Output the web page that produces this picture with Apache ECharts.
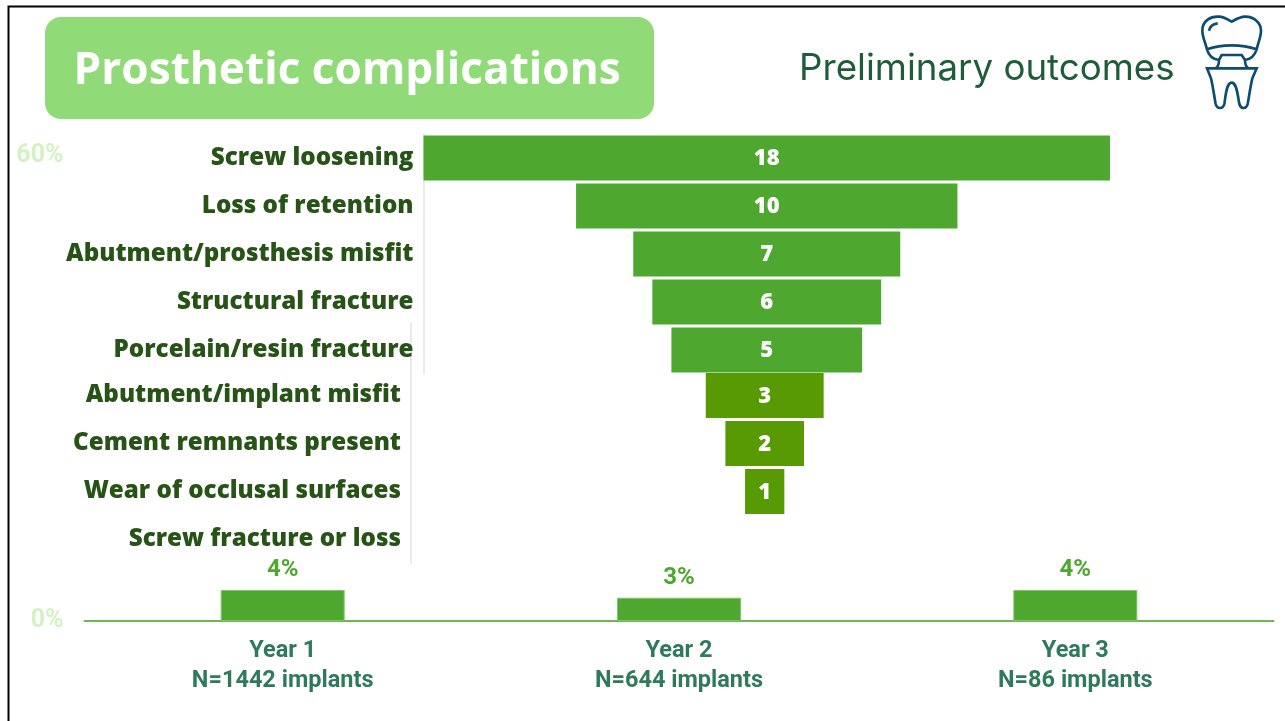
<!DOCTYPE html>
<html>
<head>
<meta charset="utf-8">
<style>
  html, body { margin: 0; padding: 0; background: #fff; }
  #main { width: 1285px; height: 721px; }
</style>
<script src="https://cdn.jsdelivr.net/npm/echarts@6/dist/echarts.min.js"></script>
</head>
<body>
<div id="main"></div>
<script>
const upperCategories = ["Screw loosening", "Loss of retention", "Abutment/prosthesis misfit", "Structural fracture", "Porcelain/resin fracture"];
const upperValues = [18, 10, 7, 6, 5];
// first row of the lower funnel sits behind the last row of the upper one
const lowerCategories = ["", "Abutment/implant misfit", "Cement remnants present", "Wear of occlusal surfaces", "Screw fracture or loss"];
const lowerValues = [null, 3, 2, 1, null];
const yearCategories = ["Year 1\nN=1442 implants", "Year 2\nN=644 implants", "Year 3\nN=86 implants"];
const yearValues = [4, 3, 4];

const FUNNEL_MAX = 18;
const BODY_FONT = '"Open Sans"';
const pad = vals => vals.map(v => (v == null ? null : (FUNNEL_MAX - v) / 2));

const TOOTH_PATH =
  "M36 118 C30 95 22 80 22 62 C22 32 48 18 72 20 C88 21 100 30 110 35 C120 30 132 21 150 20 C175 19 198 38 198 62 C198 80 190 95 185 118 " +
  "C178 140 165 148 150 150 M36 118 C42 140 55 148 72 150 M36 118 C80 102 140 102 185 118 " +
  "M72 150 L80 135 L140 135 L150 150 M72 150 C72 162 70 170 62 175 M150 150 C150 162 152 170 160 175 " +
  "M36 175 L185 175 L172 205 C165 235 162 262 158 282 C154 298 138 298 133 282 C128 258 126 218 110 218 C94 218 92 258 88 282 C84 298 66 298 62 282 C58 262 55 235 48 205 Z " +
  "M42 62 C44 50 55 42 68 40";
echarts.graphic.registerShape("tooth", echarts.graphic.extendPath(TOOTH_PATH, {}));

function funnelSeries(vals, color, xIdx, yIdx) {
  return [
    {
      type: "bar", stack: "f" + xIdx, xAxisIndex: xIdx, yAxisIndex: yIdx,
      data: pad(vals), itemStyle: { color: "transparent" }, silent: true,
      barWidth: 45
    },
    {
      type: "bar", stack: "f" + xIdx, xAxisIndex: xIdx, yAxisIndex: yIdx,
      data: vals, itemStyle: { color: color }, barWidth: 45,
      label: {
        show: true, position: "inside", offset: [0, 1], color: "#fff",
        fontFamily: BODY_FONT, fontWeight: 800, fontSize: 22
      }
    }
  ];
}

function catAxis(cats, gridIdx) {
  return {
    type: "category", gridIndex: gridIdx, inverse: true, data: cats,
    axisTick: { show: false },
    axisLine: { show: true, lineStyle: { color: "#e4e4e4", width: 1.5 } },
    axisLabel: {
      margin: 10, color: "#275317", fontFamily: BODY_FONT, padding: [2, 0, 0, 0],
      fontWeight: 800, fontSize: 24.2, interval: 0
    }
  };
}

const chart = echarts.init(document.getElementById("main"), null, { renderer: "canvas" });
chart.setOption({
  animation: false,
  backgroundColor: "#fff",
  grid: [
    { left: 423.5, top: 134, width: 686.5, height: 240 },
    { left: 411, top: 323.5, width: 707.4, height: 240 },
    { left: 84.5, top: 156, width: 1189, height: 465 }
  ],
  xAxis: [
    { type: "value", gridIndex: 0, min: 0, max: FUNNEL_MAX, show: false },
    { type: "value", gridIndex: 1, min: 0, max: FUNNEL_MAX, show: false },
    {
      type: "category", gridIndex: 2, data: yearCategories,
      axisTick: { show: false },
      axisLine: { show: true, lineStyle: { color: "#6cb84f", width: 2 } },
      axisLabel: {
        margin: 15, color: "#2f7a5c", fontFamily: "Roboto", fontWeight: "bold",
        fontSize: 23.5, lineHeight: 30, interval: 0
      }
    }
  ],
  yAxis: [
    catAxis(upperCategories, 0),
    catAxis(lowerCategories, 1),
    {
      type: "value", gridIndex: 2, min: 0, max: 60, interval: 60,
      splitLine: { show: false }, axisLine: { show: false }, axisTick: { show: false },
      axisLabel: {
        formatter: "{value}%", margin: 21, color: "#d3f1c2",
        fontFamily: "Roboto", fontWeight: "bold", fontSize: 25
      }
    }
  ],
  series: [
    {
      type: "bar", xAxisIndex: 2, yAxisIndex: 2, data: yearValues, barWidth: 124,
      itemStyle: { color: "#4ea72e", borderColor: "#7cc765", borderWidth: 1 },
      label: {
        show: true, position: "top", distance: 8, formatter: "{c}%", color: "#4ea72e",
        fontFamily: "Roboto", fontWeight: "bold", fontSize: 24
      }
    },
    ...funnelSeries(upperValues, "#4ea72e", 0, 0),
    ...funnelSeries(lowerValues, "#589a04", 1, 1)
  ],
  graphic: [
    { type: "rect", shape: { x: 8.5, y: 6.5, width: 1300, height: 730 }, style: { fill: "none", stroke: "#000", lineWidth: 2 }, z: 20 },
    { type: "rect", shape: { x: 45, y: 17, width: 609, height: 102, r: 16 }, style: { fill: "#90da78" }, z: 1 },
    {
      type: "text", x: 73.5, y: 71, z: 2,
      style: { text: "Prosthetic complications", fill: "#fff", font: 'bold 44.2px "Open Sans"', verticalAlign: "middle" }
    },
    {
      type: "text", x: 799, y: 69, z: 2,
      style: { text: "Preliminary outcomes", fill: "#1f5c3a", font: '36.7px Inter', verticalAlign: "middle" }
    },
    {
      type: "tooth", x: 1195, y: 10, scaleX: 1 / 3, scaleY: 1 / 3, z: 2,
      style: { fill: "none", stroke: "#0f4c72", lineWidth: 8 }
    }
  ]
});
</script>
</body>
</html>
